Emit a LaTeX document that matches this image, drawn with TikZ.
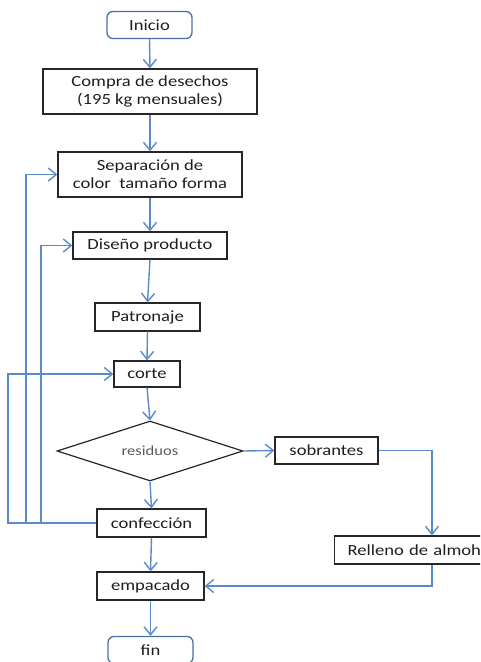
\documentclass[tikz,border=0pt]{standalone}
\usepackage{fontspec}
\setmainfont{Carlito}[FakeStretch=1.2]
\usetikzlibrary{arrows.meta,shapes.geometric}
\definecolor{flowblue}{RGB}{91,138,201}
\definecolor{boxtext}{RGB}{30,30,30}

\begin{document}
\begin{tikzpicture}[x=1pt,y=-1pt,
    font=\fontsize{15.5}{18}\selectfont,
    box/.style={draw=black!85,line width=1.3pt,text=boxtext,inner sep=0pt,align=center},
    term/.style={draw=flowblue!80!black,line width=1.3pt,rounded corners=6pt,text=boxtext,inner sep=0pt,minimum width=85pt,minimum height=27pt},
    flow/.style={draw=flowblue,line width=1.4pt,-{Straight Barb[length=8pt,width=13pt]}},
    link/.style={draw=flowblue,line width=1.4pt}]
    \useasboundingbox (0,0) rectangle (480,662);
    \clip (0,0) rectangle (480,662);

    \node[term] (inicio) at (149.5,25) {Inicio};
    \node[box,minimum width=214pt,minimum height=45pt] (compra) at (150,91.5) {Compra de desechos\\(195 kg mensuales)};
    \node[box,minimum width=184pt,minimum height=45pt] (separa) at (150,174.5) {Separación de\\color\ \ tamaño forma};
    \node[box,minimum width=154pt,minimum height=27pt] (diseno) at (150,245.5) {Diseño producto};
    \node[box,minimum width=105pt,minimum height=28pt] (patron) at (147.5,317) {Patronaje};
    \node[box,minimum width=66pt,minimum height=26pt] (corte) at (147,374) {corte};
    \node[box,diamond,minimum width=186pt,minimum height=60pt,aspect=3.1,line width=1.2pt,text=black!65,font=\fontsize{13.8}{16}\selectfont] (residuos) at (150,451) {residuos};
    \node[box,minimum width=103pt,minimum height=27pt] (sobra) at (326.5,450.5) {sobrantes};
    \node[box,anchor=west,minimum height=28pt,text width=190pt,align=left,inner xsep=13pt] (relleno) at (334,550) {Relleno de almoh};
    \node[box,minimum width=109pt,minimum height=28pt] (confec) at (151.5,523) {confección};
    \node[box,minimum width=107pt,minimum height=28pt] (empaca) at (150.5,586) {empacado};
    \node[term] (fin) at (150.5,650) {fin};

    \coordinate (xa) at (8,0);
    \coordinate (xb) at (26,0);
    \coordinate (xc) at (41,0);
    \coordinate (turn) at (432,0);

    \draw[flow] (inicio.south) -- (compra.north);
    \draw[flow] (compra.south) -- (separa.north);
    \draw[flow] (separa.south) -- (diseno.north);
    \draw[flow] (diseno.south) -- (patron.north);
    \draw[flow] (patron.south) -- (corte.north);
    \draw[flow] (corte.south) -- (residuos.north);
    \draw[flow] (residuos.south) -- (confec.north);
    \draw[flow] (residuos.east) -- (sobra.west);
    \draw[flow] (sobra.east) -| (turn |- relleno.north);
    \draw[flow] (turn |- relleno.south) |- (empaca.east);
    \draw[flow] (confec.south) -- (empaca.north);
    \draw[flow] (empaca.south) -- (fin.north);

    \draw[flow] (confec.west) -| (xa |- corte.west) -- (corte.west);
    \draw[flow] (confec.west) -| (xb |- separa.west) -- (separa.west);
    \draw[flow] (confec.west) -| (xc |- diseno.west) -- (diseno.west);
\end{tikzpicture}
\end{document}
